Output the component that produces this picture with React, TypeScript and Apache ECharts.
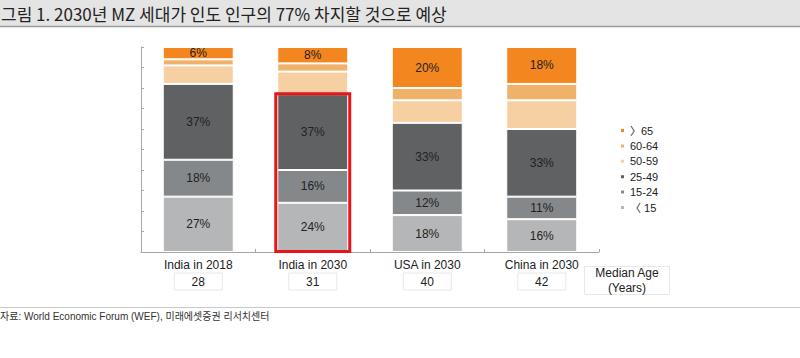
import React, { useEffect, useRef } from "react";
import * as echarts from "echarts";

const categories = ["India in 2018", "India in 2030", "USA in 2030", "China in 2030"];
const medianAge = [28, 31, 40, 42];

const under15 = [27, 24, 18, 16];
const age15to24 = [18, 16, 12, 11];
const age25to49 = [37, 37, 33, 33];
const age50to59 = [9, 11, 11, 14];
const age60to64 = [3, 4, 6, 8];
const over65 = [6, 8, 20, 18];

const seriesNames = ["〈 15", "15-24", "25-49", "50-59", "60-64", "〉65"];
const seriesColors = ["#B5B6B7", "#85888A", "#5F6163", "#F6CFA3", "#F0B16B", "#F4861F"];
const seriesLabeled = [true, true, true, false, false, true];
const legendOrder = ["〉65", "60-64", "50-59", "25-49", "15-24", "〈 15"];

const highlightIndex = 1; // India in 2030, MZ generation (<15, 15-24, 25-49)

const titleText = "그림 1. 2030년 MZ 세대가 인도 인구의 77% 차지할 것으로 예상";
const sourceText = "자료: World Economic Forum (WEF), 미래에셋증권 리서치센터";

const FONT = "'Liberation Sans', 'Noto Sans CJK KR', sans-serif";

export default function App() {
  const ref = useRef<HTMLDivElement>(null);
  useEffect(() => {
    document.body.style.margin = "0";
    const chart = echarts.init(ref.current!, null, { renderer: "svg" });
    const values = [under15, age15to24, age25to49, age50to59, age60to64, over65];
    const highlightTop = under15[highlightIndex] + age15to24[highlightIndex] + age25to49[highlightIndex];

    const barSeries = values.map((arr, i) => ({
      name: seriesNames[i],
      type: "bar",
      stack: "total",
      barWidth: "62%",
      data: arr,
      itemStyle: { color: seriesColors[i], borderColor: "#ffffff", borderWidth: 1 },
      label: {
        show: seriesLabeled[i],
        position: "inside",
        formatter: "{c}%",
        color: "#222222",
        fontSize: 12,
        fontFamily: FONT,
      },
      emphasis: { disabled: true },
    }));

    const option: any = {
      animation: false,
      textStyle: { fontFamily: FONT },
      grid: { left: 141, right: 201, top: 47, bottom: 106, containLabel: false },
      legend: {
        orient: "vertical",
        left: 614,
        top: 119,
        itemWidth: 5,
        itemHeight: 5,
        itemGap: 2.4,
        icon: "rect",
        data: legendOrder,
        textStyle: { fontSize: 11, lineHeight: 13, color: "#222222", fontFamily: FONT },
      },
      xAxis: {
        type: "category",
        data: categories,
        axisLine: { lineStyle: { color: "#A6A6A6", width: 1 } },
        axisTick: { show: true, inside: true, length: 3, lineStyle: { color: "#A6A6A6" } },
        axisLabel: {
          interval: 0,
          margin: 5,
          formatter: (v: string, idx: number) => `{n|${v}}\n{b|${medianAge[idx]}}`,
          rich: {
            n: { fontSize: 12, lineHeight: 16, color: "#222222", fontFamily: FONT },
            b: {
              fontSize: 12,
              color: "#222222",
              fontFamily: FONT,
              width: 48,
              height: 17,
              lineHeight: 17,
              align: "center",
              borderColor: "#E8E8E8",
              borderWidth: 1,
            },
          },
        },
      },
      yAxis: {
        type: "value",
        min: 0,
        max: 100,
        interval: 10,
        axisLabel: { show: false },
        splitLine: { show: false },
        axisLine: { show: true, lineStyle: { color: "#A6A6A6", width: 1 } },
        axisTick: { show: true, inside: true, length: 3, lineStyle: { color: "#A6A6A6" } },
      },
      series: [
        ...barSeries,
        {
          type: "custom",
          name: "highlight",
          silent: true,
          z: 10,
          data: [[highlightIndex, 0, highlightTop]],
          renderItem: (params: any, api: any) => {
            const bottom = api.coord([api.value(0), api.value(1)]);
            const top = api.coord([api.value(0), api.value(2)]);
            const w = api.size([1, 0])[0] * 0.62 + 3;
            return {
              type: "rect",
              shape: { x: bottom[0] - w / 2, y: top[1] - 0.5, width: w, height: bottom[1] - top[1] },
              style: { fill: "none", stroke: "#E8141B", lineWidth: 3 },
            };
          },
        },
      ],
      graphic: [
        { type: "rect", shape: { x: 0, y: 0, width: 800, height: 26 }, style: { fill: "#E4E4E4" }, silent: true },
        { type: "line", shape: { x1: 0, y1: 26.5, x2: 800, y2: 26.5 }, style: { stroke: "#9A9A9A", lineWidth: 1.5 }, silent: true },
        {
          type: "text",
          x: 1,
          y: 13.5,
          style: {
            text: titleText,
            fontSize: 17,
            fontFamily: "'Noto Sans CJK KR', sans-serif",
            fill: "#222222",
            verticalAlign: "middle",
          },
        },
        { type: "rect", shape: { x: 584.5, y: 266.5, width: 85, height: 28 }, style: { fill: "none", stroke: "#E8E8E8", lineWidth: 1 }, silent: true },
        {
          type: "text",
          x: 627,
          y: 280.5,
          style: {
            text: "Median Age\n(Years)",
            fontSize: 12,
            lineHeight: 15,
            fontFamily: FONT,
            fill: "#222222",
            align: "center",
            verticalAlign: "middle",
          },
        },
        { type: "line", shape: { x1: 0, y1: 307.5, x2: 800, y2: 307.5 }, style: { stroke: "#C8C8C8", lineWidth: 1 }, silent: true },
        {
          type: "text",
          x: 0,
          y: 316,
          style: {
            text: sourceText,
            fontSize: 10,
            fontFamily: "'Liberation Sans', 'Noto Sans CJK KR', sans-serif",
            fill: "#333333",
            verticalAlign: "middle",
          },
        },
      ],
    };
    chart.setOption(option);
    return () => chart.dispose();
  }, []);
  return <div ref={ref} style={{ width: 800, height: 358 }} />;
}
